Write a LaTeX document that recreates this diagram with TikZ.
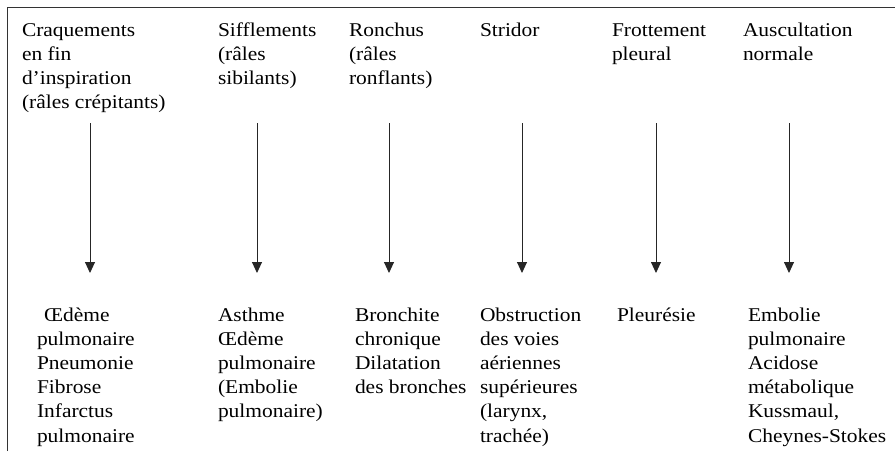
\documentclass[tikz,border=0pt]{standalone}
\usepackage{fontspec}
\setmainfont{Liberation Serif}[FakeStretch=1.1]
\usetikzlibrary{arrows.meta}
\tikzset{
  txt/.style={anchor=base west, inner sep=0pt, outer sep=0pt,
    font=\fontsize{19.5}{24.2}\selectfont},
  arr/.style={line width=0.9pt, draw=black!85,
    -{Triangle[length=11pt,width=10pt]}},
  frame/.style={line width=1.3pt, draw=black!80}
}
\newcommand{\col}[1]{\begin{tabular}[t]{@{}l@{}}#1\end{tabular}}
\begin{document}
\begin{tikzpicture}[x=1pt,y=1pt]
\useasboundingbox (0,0) rectangle (895,-451);
% frame (top and left edges)
\coordinate (fa) at (7.5,-451);
\coordinate (fb) at (7.5,-7.5);
\coordinate (fc) at (895,-7.5);
\draw[frame] (fa) -- (fb) -- (fc);
% headers
\node[txt] (h1) at (22,-36) {\col{Craquements\\en fin\\d’inspiration\\(râles crépitants)}};
\node[txt] (h2) at (218,-36) {\col{Sifflements\\(râles\\sibilants)}};
\node[txt] (h3) at (349,-36) {\col{Ronchus\\(râles\\ronflants)}};
\node[txt] (h4) at (480,-36) {\col{Stridor}};
\node[txt] (h5) at (612,-36) {\col{Frottement\\pleural}};
\node[txt] (h6) at (743,-36) {\col{Auscultation\\normale}};
% bodies
\node[txt] (b1) at (37,-321) {\col{\hspace*{7pt}Œdème\\pulmonaire\\Pneumonie\\Fibrose\\Infarctus\\pulmonaire}};
\node[txt] (b2) at (218,-321) {\col{Asthme\\Œdème\\pulmonaire\\(Embolie\\pulmonaire)}};
\node[txt] (b3) at (355,-321) {\col{Bronchite\\chronique\\Dilatation\\des bronches}};
\node[txt] (b4) at (480,-321) {\col{Obstruction\\des voies\\aériennes\\supérieures\\(larynx,\\trachée)}};
\node[txt] (b5) at (617,-321) {\col{Pleurésie}};
\node[txt] (b6) at (748,-321) {\col{Embolie\\pulmonaire\\Acidose\\métabolique\\Kussmaul,\\Cheynes-Stokes}};
% arrows
\foreach \i/\x in {1/90,2/257,3/389,4/522,5/656,6/789}{
  \coordinate (s\i) at (\x,-123);
  \coordinate (e\i) at (\x,-273);
  \draw[arr] (s\i) -- (e\i);
}
\end{tikzpicture}
\end{document}
